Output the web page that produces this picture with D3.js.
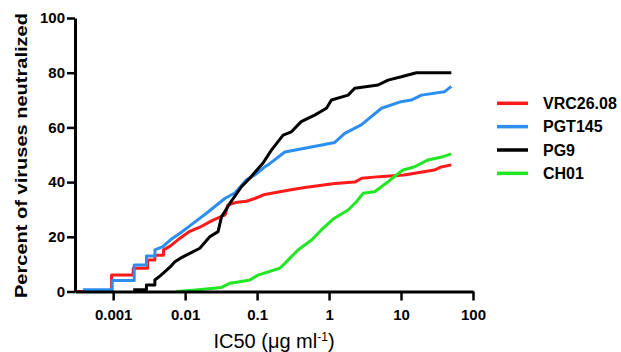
<!DOCTYPE html>
<html>
<head>
<meta charset="utf-8">
<script src="https://cdn.jsdelivr.net/npm/d3@7"></script>
<style>
  body { margin: 0; background: #fff; }
  text { font-family: "Liberation Sans", Arial, sans-serif; }
</style>
</head>
<body>
<div id="chart"></div>
<script>
// IC50 (ug/ml) vs cumulative percent neutralized.
// Vertices of each curve; the coarse steps at the low end are kept as pairs.
const vrcIC50 = [0.0003, 0.00095, 0.00095, 0.0019, 0.0019, 0.003, 0.003, 0.0038, 0.0038, 0.005, 0.005, 0.0062, 0.0085, 0.0116, 0.016, 0.024, 0.036, 0.039, 0.05, 0.071, 0.093, 0.128, 0.27, 0.46, 1.2, 2.27, 2.85, 5, 11, 15.5, 29, 35, 50];
const vrcPct = [0, 0, 6, 6, 8.5, 8.5, 11.5, 11.5, 13.3, 13.3, 15.2, 16.6, 19.5, 22, 23.5, 26, 28, 31.6, 32.5, 33, 34, 35.5, 37, 38, 39.5, 40, 41.4, 42, 42.6, 43.2, 44.4, 45.4, 46.3];

const pgtIC50 = [0.00038, 0.00097, 0.00097, 0.00196, 0.00196, 0.0029, 0.0029, 0.0038, 0.0038, 0.0049, 0.0062, 0.0085, 0.0116, 0.0198, 0.0356, 0.049, 0.071, 0.093, 0.128, 0.142, 0.243, 0.46, 1.2, 1.65, 2.8, 5.35, 10, 13.9, 19.2, 40, 50];
const pgtPct = [0.6, 0.6, 4, 4, 9.7, 9.7, 13, 13, 15.2, 16.4, 18.8, 21.3, 24, 28.6, 34, 36, 40.8, 42.6, 45.6, 46.3, 51, 52.4, 54.5, 57.8, 60.9, 67, 69.4, 70, 71.8, 73, 75];

const pg9IC50 = [0.0019, 0.0029, 0.0029, 0.0038, 0.0038, 0.0045, 0.0052, 0.0062, 0.0072, 0.0085, 0.0099, 0.016, 0.022, 0.0287, 0.032, 0.0418, 0.0607, 0.079, 0.109, 0.121, 0.158, 0.23, 0.3, 0.41, 0.63, 0.92, 1.08, 1.84, 2.27, 4.8, 6.6, 10.1, 16.4, 50];
const pg9Pct = [0.6, 0.6, 2.4, 2.4, 4.2, 5.7, 7.2, 9, 10.9, 12.1, 13, 15.8, 20, 21.9, 27.3, 32.2, 38.3, 41.4, 45.6, 47, 51.7, 57.2, 58.4, 62.1, 64.5, 67, 70, 71.8, 74.3, 75.5, 77.3, 78.5, 80, 80];

const ch01IC50 = [0.0076, 0.0129, 0.032, 0.0418, 0.0575, 0.079, 0.103, 0.206, 0.243, 0.37, 0.57, 0.78, 1.14, 1.84, 2.4, 2.97, 4.3, 6.6, 8.6, 10.7, 15.5, 23.7, 38.3, 50];
const ch01Pct = [0, 0.5, 1.5, 3, 3.6, 4.2, 6, 8.5, 10.3, 15.2, 18.8, 22.5, 26.5, 29.8, 32.8, 35.9, 36.5, 40.1, 42.6, 44.4, 45.6, 48.1, 49.3, 50.3];

const names = ["VRC26.08", "PGT145", "PG9", "CH01"];
const colors = ["#ff1a1a", "#2b8ef0", "#000000", "#22e622"];
const xTicks = [0.001, 0.01, 0.1, 1, 10, 100];
const yTicks = [0, 20, 40, 60, 80, 100];

const series = [
  { name: names[0], x: vrcIC50, y: vrcPct },
  { name: names[1], x: pgtIC50, y: pgtPct },
  { name: names[2], x: pg9IC50, y: pg9Pct },
  { name: names[3], x: ch01IC50, y: ch01Pct },
];

const W = 621, H = 352;
const margin = { top: 18, left: 75 };
const width = 398, height = 273.5;

const svg = d3.select("#chart").append("svg")
  .attr("width", W).attr("height", H);

const g = svg.append("g")
  .attr("transform", `translate(${margin.left},${margin.top})`);

const x = d3.scaleLog().domain([0.000295, 100]).range([0, width]);
const y = d3.scaleLinear().domain([0, 100]).range([height, 0]);

const line = d3.line()
  .x(d => x(d[0]))
  .y(d => y(d[1]));

g.selectAll(".curve")
  .data(series)
  .enter()
  .append("path")
  .attr("class", "curve")
  .attr("fill", "none")
  .attr("stroke", (d, i) => colors[i])
  .attr("stroke-width", 3)
  .attr("stroke-linejoin", "round")
  .attr("d", d => line(d.x.map((v, i) => [v, d.y[i]])));

const xAxis = g.append("g")
  .attr("transform", `translate(0,${height})`)
  .call(d3.axisBottom(x).tickValues(xTicks).tickFormat(d3.format("~g"))
    .tickSize(9).tickPadding(9).tickSizeOuter(0));

const yAxis = g.append("g")
  .call(d3.axisLeft(y).tickValues(yTicks).tickSize(8).tickPadding(2).tickSizeOuter(0));

[xAxis, yAxis].forEach(a => {
  a.select(".domain").attr("stroke", "#000").attr("stroke-width", 3);
  a.selectAll(".tick line").attr("stroke", "#000").attr("stroke-width", 2.5);
  a.selectAll(".tick text")
    .attr("fill", "#000")
    .style("font-size", "15px")
    .style("font-weight", "bold")
    .style("font-family", "'Liberation Sans', Arial, sans-serif");
});

// axis titles
svg.append("text")
  .attr("transform", "translate(27,155.5) rotate(-90)")
  .attr("text-anchor", "middle")
  .attr("textLength", 285)
  .attr("lengthAdjust", "spacingAndGlyphs")
  .style("font-size", "17px")
  .style("font-weight", "bold")
  .text("Percent of viruses neutralized");

const xl = svg.append("text")
  .attr("x", margin.left + width / 2)
  .attr("y", 348)
  .attr("text-anchor", "middle")
  .style("font-size", "20px");
xl.append("tspan").text("IC50 (\u03bcg ml");
xl.append("tspan").attr("dy", -7).style("font-size", "12px").text("-1");
xl.append("tspan").attr("dy", 7).text(")");

// legend
const legend = svg.append("g").attr("transform", "translate(497,103.3)");
const items = legend.selectAll("g")
  .data(names)
  .enter()
  .append("g")
  .attr("transform", (d, i) => `translate(0,${i * 23.35})`);
items.append("line")
  .attr("x1", 0).attr("x2", 31)
  .attr("stroke", (d, i) => colors[i])
  .attr("stroke-width", 3.5);
items.append("text")
  .attr("x", 46)
  .attr("dy", "0.36em")
  .style("font-size", "16px")
  .style("font-weight", "bold")
  .text(d => d);
</script>
</body>
</html>
